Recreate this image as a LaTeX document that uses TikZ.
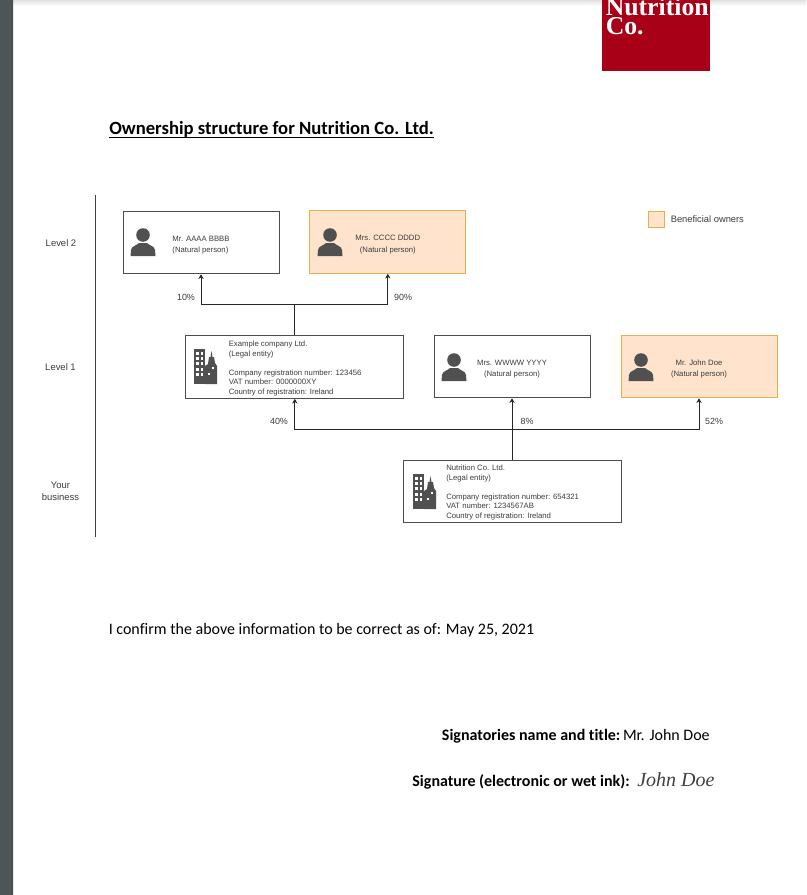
\documentclass[tikz,border=0pt]{standalone}
\usepackage{fontspec}
\setmainfont[Ligatures=NoCommon]{Carlito}
\newfontfamily\drawfont{Liberation Sans}
\newfontfamily\logofont{Liberation Serif}
\usepackage{tikz}
\usetikzlibrary{arrows.meta,positioning}
\definecolor{logored}{HTML}{A80016}
\definecolor{owner}{HTML}{FFE3CC}
\definecolor{ownerline}{HTML}{E5AE4F}
\definecolor{icongray}{HTML}{505050}
\definecolor{inkgray}{HTML}{3C3C3C}
\definecolor{sidebar}{HTML}{4E5558}
\newcommand{\lift}{\rule{0pt}{8.3pt}}

\begin{document}
\begin{tikzpicture}[
  x=0.75pt, y=-0.75pt,
  person/.style={draw=black!70, line width=0.75pt, align=center, minimum width=117pt, minimum height=47pt, inner sep=0pt, font=\drawfont\fontsize{5.8}{8.6}\selectfont, text=inkgray},
  benef/.style={person, draw=ownerline, fill=owner},
  legal/.style={draw=black!70, line width=0.75pt, minimum width=163.5pt, minimum height=47pt, inner sep=0pt},
  info/.style={align=left, anchor=west, inner sep=0pt, font=\drawfont\fontsize{5.8}{7.2}\selectfont, text=inkgray},
  arr/.style={-{Stealth[length=3.5pt,width=4pt]}, line width=0.6pt, draw=black!85},
  lab/.style={font=\drawfont\fontsize{6.7}{8}\selectfont, text=inkgray, inner sep=0pt},
  lev/.style={font=\drawfont\fontsize{7.1}{9}\selectfont, text=inkgray, align=center, inner sep=0pt},
  doc/.style={anchor=base east, inner sep=0pt, font=\fontsize{12}{14}\selectfont},
  person icon/.pic={
    \fill[icongray] (0,0) circle (6.8);
    \fill[icongray] (-12.5,21) -- (-12,15) .. controls (-11.5,11) and (-7,11) .. (-4,8) -- (4,8) .. controls (7,11) and (11.5,11) .. (12,15) -- (12.5,21) -- cycle;
  },
  building icon/.pic={
    \fill[icongray] (0,0) rectangle (11,35);
    \fill[icongray] (11,35) -- (11,17) -- (14,15) -- (15,8) -- (16.5,8) -- (17.5,2) -- (18.5,8) -- (20,8) -- (21,14) -- (23,17) -- (23,35) -- cycle;
    \foreach \wx in {2.2,6.7}
      \foreach \wy in {3,8,13,19,24}
        \fill[white] (\wx,\wy) rectangle +(2.4,2.6);
    \fill[white] (17.5,18) rectangle +(2.2,2.2);
    \fill[white] (13.5,24) rectangle +(2.2,2.2);
  }]
  \useasboundingbox (0,0) rectangle (806,895);
  % page surroundings: viewer bar on the left, soft shadow on top
  \fill[white] (0,0) rectangle (806,895);
  \shade[top color=black!12, bottom color=white] (13,0) rectangle (806,6);
  \fill[sidebar] (0,0) rectangle (11,895);
  \shade[left color=sidebar, right color=black!70] (9,0) rectangle (13,895);
  % logo
  \node[fill=logored, minimum width=81pt, minimum height=53.25pt, inner sep=0pt, anchor=north west] (logo) at (602,0) {};
  \node[anchor=base west, inner sep=0pt, text=white, font=\logofont\bfseries\fontsize{19.3}{15}\selectfont] (logotxt) at (605.5,16) {Nutrition};
  \node[anchor=base west, inner sep=0pt, text=white, font=\logofont\bfseries\fontsize{19.3}{15}\selectfont] (logoco) at (605.5,35) {Co.};
  % heading
  \node[anchor=base west, inner sep=0pt, font=\bfseries\fontsize{14}{16}\selectfont] (title) at (109,135) {Ownership structure for Nutrition Co. Ltd.};
  \draw[line width=0.9pt] ([yshift=-1.7pt]title.base west) -- ([yshift=-1.7pt]title.base east);
  % levels on the left
  \node[lev] (lev2) at (61,243) {Level 2};
  \node[lev] (lev1) at (60.5,367) {Level 1};
  \node[lev] (lev0) at (60.5,491) {Your\\business};
  \coordinate (railtop) at (95.8,195);
  \coordinate (railend) at (95.8,537);
  \draw[black!75, line width=0.7pt] (railtop) -- (railend);
  % owners and companies
  \node[person, align=left] (aaaa) at (201,242.5) {\lift Mr. AAAA BBBB\\(Natural person)};
  \node[benef]  (cccc) at (387.8,242) {\lift Mrs. CCCC DDDD\\(Natural person)};
  \node[legal]  (excomp) at (294.8,367) {};
  \node[person] (wwww) at (512,366.5) {\lift Mrs. WWWW YYYY\\(Natural person)};
  \node[benef]  (jdoe) at (699,366.5) {\lift Mr. John Doe\\(Natural person)};
  \node[legal]  (nutri) at (512,491.5) {};
  \node[info] (extxt) at (228.5,368.5) {Example company Ltd.\\(Legal entity)\\[7.2pt]Company registration number: 123456\\VAT number: 0000000XY\\Country of registration: Ireland};
  \node[info] (nutxt) at (446,492.5) {Nutrition Co. Ltd.\\(Legal entity)\\[7.2pt]Company registration number: 654321\\VAT number: 1234567AB\\Country of registration: Ireland};
  \pic at (143,235) {person icon};
  \pic at (330,235) {person icon};
  \pic at (454,360) {person icon};
  \pic at (641,360) {person icon};
  \pic at (194,349) {building icon};
  \pic at (413,474) {building icon};
  % legend
  \node[draw=ownerline, fill=owner, line width=0.75pt, minimum size=12pt, inner sep=0pt] (legbox) at (656,219) {};
  \node[lev, anchor=west, font=\drawfont\fontsize{7}{8}\selectfont] (legtxt) at (670.5,219) {Beneficial owners};
  % connectors
  \coordinate (upper) at (294.8,304.5);
  \coordinate (lower) at (512,429.5);
  \draw[line width=0.6pt, draw=black!85] (excomp.north) -- (upper);
  \draw[arr] (upper) -| (aaaa.south);
  \draw[arr] (upper) -| (cccc.south);
  \draw[arr] (nutri.north) -- (wwww.south);
  \draw[arr] (lower) -| (excomp.south);
  \draw[arr] (lower) -| (jdoe.south);
  \node[lab] (p10) at (186,297) {10\%};
  \node[lab] (p90) at (403,297) {90\%};
  \node[lab] (p40) at (279,421.5) {40\%};
  \node[lab] (p8)  at (527,421.5) {8\%};
  \node[lab] (p52) at (714,421.5) {52\%};
  % statement and signature
  \node[anchor=base west, inner sep=0pt, font=\fontsize{12}{14}\selectfont] (conf) at (108.5,634) {I confirm the above information to be correct as of: May 25, 2021};
  \node[doc] (sign) at (710,740) {\textbf{Signatories name and title:}\hspace{2pt}Mr. John Doe};
  \node[doc] (sigl) at (630,786) {\textbf{Signature (electronic or wet ink):}};
  \node[anchor=base west, inner sep=0pt, font=\logofont\itshape\fontsize{15}{16}\selectfont, text=black!75] (sigv) at (637,786) {John Doe};
\end{tikzpicture}
\end{document}
